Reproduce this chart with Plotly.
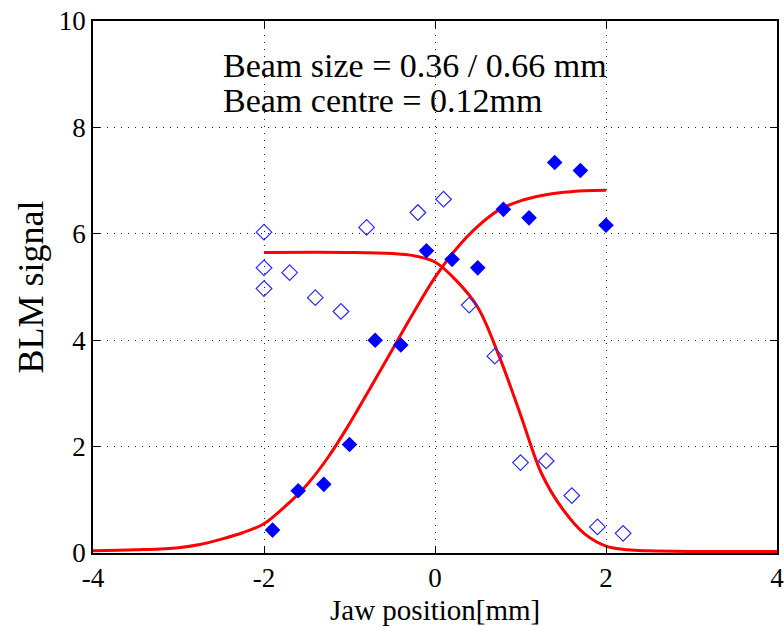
import plotly.graph_objects as go

# Open diamonds (one jaw)
open_x = [-2.0, -2.0, -2.0, -1.7, -1.4, -1.1, -0.8, -0.2, 0.1, 0.4, 0.7, 1.0, 1.3, 1.6, 1.9, 2.2]
open_y = [6.03, 5.36, 4.97, 5.27, 4.80, 4.54, 6.12, 6.40, 6.65, 4.66, 3.70, 1.70, 1.73, 1.08, 0.49, 0.37]

# Filled diamonds (other jaw)
fill_x = [-1.9, -1.6, -1.3, -1.0, -0.7, -0.4, -0.1, 0.2, 0.5, 0.8, 1.1, 1.4, 1.7, 2.0]
fill_y = [0.43, 1.17, 1.29, 2.04, 4.00, 3.91, 5.68, 5.52, 5.36, 6.46, 6.30, 7.34, 7.19, 6.16]

# Fitted curves
rise_x = [-4.0, -3.5, -3.0, -2.75, -2.5, -2.25, -2.0, -1.75, -1.5, -1.25, -1.0, -0.75, -0.5, -0.25, 0.0, 0.25, 0.5, 0.75, 1.0, 1.25, 1.5, 1.75, 2.0]
rise_y = [0.04, 0.06, 0.10, 0.16, 0.26, 0.38, 0.55, 0.88, 1.28, 1.80, 2.43, 3.12, 3.82, 4.52, 5.18, 5.72, 6.14, 6.45, 6.62, 6.72, 6.78, 6.81, 6.82]

fall_x = [-2.0, -1.0, -0.5, -0.25, 0.0, 0.25, 0.5, 0.75, 1.0, 1.25, 1.5, 1.75, 2.0, 2.25, 2.5, 3.0, 4.0]
fall_y = [5.65, 5.65, 5.63, 5.59, 5.47, 5.12, 4.62, 3.70, 2.60, 1.48, 0.81, 0.36, 0.13, 0.06, 0.04, 0.03, 0.03]

x_ticks = [-4, -2, 0, 2, 4]
y_ticks = [0, 2, 4, 6, 8, 10]

font = "Liberation Serif"

fig = go.Figure()
curve_line = dict(color="#ff0000", width=3, shape="spline", smoothing=1.0)
fig.add_trace(go.Scatter(x=rise_x, y=rise_y, mode="lines", line=curve_line, hoverinfo="skip"))
fig.add_trace(go.Scatter(x=fall_x, y=fall_y, mode="lines", line=curve_line, hoverinfo="skip"))
fig.add_trace(go.Scatter(x=open_x, y=open_y, mode="markers",
                         marker=dict(symbol="diamond-open", size=12, color="#2a2aff", line=dict(width=1.2, color="#2a2aff"))))
fig.add_trace(go.Scatter(x=fill_x, y=fill_y, mode="markers",
                         marker=dict(symbol="diamond", size=12, color="#0000ff", line=dict(width=0))))

fig.add_annotation(x=-2.5, y=9.17, xref="x", yref="y", text="Beam size = 0.36 / 0.66 mm",
                   showarrow=False, xanchor="left", yanchor="middle", font=dict(family=font, size=34, color="black"))
fig.add_annotation(x=-2.5, y=8.50, xref="x", yref="y", text="Beam centre = 0.12mm",
                   showarrow=False, xanchor="left", yanchor="middle", font=dict(family=font, size=34, color="black"))
# x-axis title placed just below the tick labels
fig.add_annotation(x=0.5, y=0, xref="paper", yref="paper", text="Jaw position[mm]",
                   showarrow=False, xanchor="center", yanchor="middle", yshift=-57,
                   font=dict(family=font, size=29, color="black"))

axis_common = dict(showline=True, linecolor="black", linewidth=1.5, mirror="allticks",
                   ticks="inside", ticklen=7, tickcolor="black", tickwidth=1,
                   showgrid=True, gridcolor="#222222", griddash="1px,6px", gridwidth=1.2,
                   zeroline=False, automargin=False, ticklabeloverflow="allow",
                   tickfont=dict(family=font, size=27, color="black"))

fig.update_xaxes(range=[-4, 4], tickvals=x_ticks, ticktext=[str(v) for v in x_ticks], **axis_common)
fig.update_yaxes(range=[0, 10], tickvals=y_ticks, ticktext=[str(v) for v in y_ticks],
                 title=dict(text="BLM signal", font=dict(family=font, size=36, color="black"), standoff=4),
                 **axis_common)

fig.update_layout(width=784, height=626, margin=dict(l=93, r=7, t=21, b=73),
                  plot_bgcolor="white", paper_bgcolor="white", showlegend=False)

fig.write_html("out.html")
